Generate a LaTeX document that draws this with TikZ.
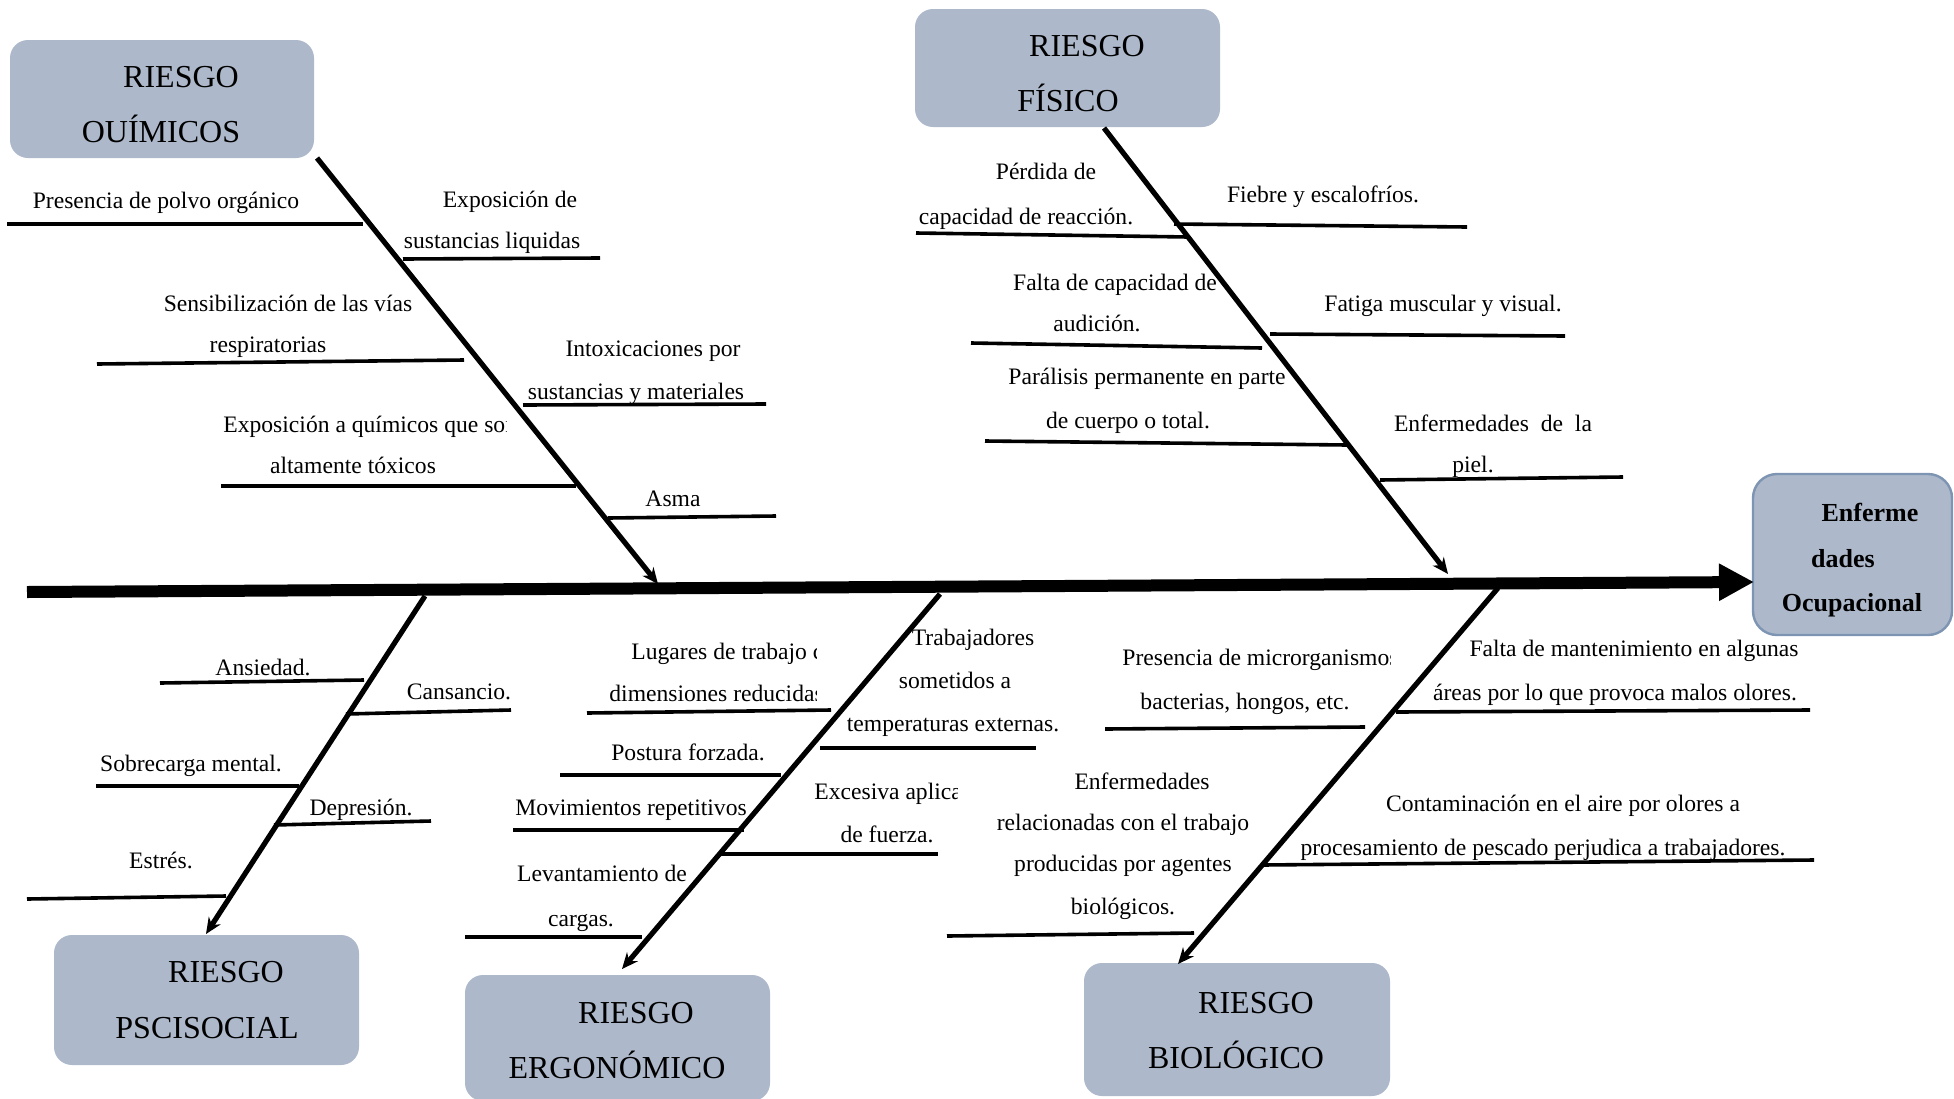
\documentclass[tikz,border=0pt]{standalone}
\usepackage{fontspec}
\setmainfont{Liberation Serif}
\usetikzlibrary{arrows.meta}
\definecolor{boxfill}{RGB}{173,185,203}
\definecolor{boxedge}{RGB}{125,148,178}

\begin{document}
\begin{tikzpicture}[x=0.5pt,y=-0.5pt,
  catbox/.style={fill=boxfill, rounded corners=9pt, inner sep=0pt},
  effbox/.style={fill=boxfill, draw=boxedge, line width=1.2pt, rounded corners=12pt, inner sep=0pt},
  title/.style={anchor=base, inner sep=0pt, font=\fontsize{16}{18}\selectfont},
  efftitle/.style={anchor=base, inner sep=0pt, font=\fontsize{13}{15}\selectfont\bfseries},
  lbl/.style={anchor=base, inner sep=0pt, font=\fontsize{11.8}{14}\selectfont},
  lblw/.style={lbl, anchor=base west},
  rib/.style={line width=1.8pt},
  bone/.style={line width=2.6pt, -{Stealth[length=8pt,width=7pt]}},
  spine/.style={line width=6pt, -{Triangle[length=17.5pt,width=17.5pt]}}]

\clip (0,0) rectangle (1954,1098);
\fill[white] (0,0) rectangle (1954,1098);

% ---------- category boxes ----------
\node[catbox, minimum width=152pt, minimum height=59pt] (quim) at (162,99) {};
\node[title] (quimA) at (181,87) {RIESGO};
\node[title] (quimB) at (161,142) {OUÍMICOS};

\node[catbox, minimum width=152.5pt, minimum height=59pt] (fis) at (1067.5,68) {};
\node[title] (fisA) at (1087,56) {RIESGO};
\node[title] (fisB) at (1068,111) {FÍSICO};

\node[catbox, minimum width=152.5pt, minimum height=65pt] (psi) at (206.5,1000) {};
\node[title] (psiA) at (226,982) {RIESGO};
\node[title] (psiB) at (207,1038) {PSCISOCIAL};

\node[catbox, minimum width=152.5pt, minimum height=63pt] (erg) at (617.5,1038) {};
\node[title] (ergA) at (636,1023) {RIESGO};
\node[title] (ergB) at (617,1078) {ERGONÓMICO};

\node[catbox, minimum width=153pt, minimum height=66.5pt] (bio) at (1237,1029.5) {};
\node[title] (bioA) at (1256,1013) {RIESGO};
\node[title] (bioB) at (1236,1068) {BIOLÓGICO};

% ---------- effect box ----------
\node[effbox, minimum width=99.5pt, minimum height=80.5pt] (eff) at (1852.5,554.5) {};
\node[efftitle] (effA) at (1870,521) {Enferme};
\node[efftitle] (effB) at (1843,567) {dades};
\node[efftitle] (effC) at (1852,611) {Ocupacional};

% ---------- spine ----------
\coordinate (sp0) at (27,592);
\coordinate (sp1) at (1754,582);
\draw[spine] (sp0) -- (sp1);

% ---------- main bones ----------
\coordinate (q0) at (317,158);  \coordinate (q1) at (658,584);
\coordinate (f0) at (1104,128); \coordinate (f1) at (1448,574);
\coordinate (p0) at (425,596);  \coordinate (p1) at (206,934);
\coordinate (e0) at (940,594);  \coordinate (e1) at (622,969);
\coordinate (b0) at (1498,588); \coordinate (b1) at (1178,964);
\draw[bone] (q0) -- (q1);
\draw[bone] (f0) -- (f1);
\draw[bone] (p0) -- (p1);
\draw[bone] (e0) -- (e1);
\draw[bone] (b0) -- (b1);

% ---------- chemical causes ----------
\coordinate (qa0) at (7,224);   \coordinate (qa1) at (363,224);
\coordinate (qb0) at (403,259); \coordinate (qb1) at (600,258);
\coordinate (qc0) at (97,364);  \coordinate (qc1) at (464,360);
\coordinate (qd0) at (523,405); \coordinate (qd1) at (766,404);
\coordinate (qe0) at (221,486); \coordinate (qe1) at (576,486);
\coordinate (qf0) at (608,518); \coordinate (qf1) at (776,516);
\foreach \r in {qa,qb,qc,qd,qe,qf} \draw[rib] (\r0) -- (\r1);
\node[lbl] (qaT) at (166,208) {Presencia de polvo orgánico};
\node[lbl] (qbT1) at (510,207) {Exposición de};
\node[lbl] (qbT2) at (492,248) {sustancias liquidas};
\node[lbl] (qcT1) at (288,311) {Sensibilización de las vías};
\node[lbl] (qcT2) at (268,352) {respiratorias};
\node[lbl] (qdT1) at (653,356) {Intoxicaciones por};
\node[lbl] (qdT2) at (636,399) {sustancias y materiales};
\begin{scope}
  \clip (200,400) rectangle (506,445);
  \node[lblw] (qeT1) at (223,432) {Exposición a químicos que son};
\end{scope}
\node[lbl] (qeT2) at (353,473) {altamente tóxicos};
\node[lbl] (qfT) at (673,506) {Asma};

% ---------- physical causes ----------
\coordinate (fa0) at (916,233);  \coordinate (fa1) at (1188,237);
\coordinate (fb0) at (1174,224); \coordinate (fb1) at (1467,227);
\coordinate (fc0) at (971,343);  \coordinate (fc1) at (1262,348);
\coordinate (fd0) at (1270,334); \coordinate (fd1) at (1565,336);
\coordinate (fe0) at (985,441);  \coordinate (fe1) at (1347,445);
\coordinate (ff0) at (1380,480); \coordinate (ff1) at (1623,477);
\foreach \r in {fa,fb,fc,fd,fe,ff} \draw[rib] (\r0) -- (\r1);
\node[lbl] (faT1) at (1046,179) {Pérdida de};
\node[lbl] (faT2) at (1026,224) {capacidad de reacción.};
\node[lbl] (fbT) at (1323,202) {Fiebre y escalofríos.};
\node[lbl] (fcT1) at (1115,290) {Falta de capacidad de};
\node[lbl] (fcT2) at (1097,331) {audición.};
\node[lbl] (fdT) at (1443,311) {Fatiga muscular y visual.};
\node[lbl] (feT1) at (1147,384) {Parálisis permanente en parte};
\node[lbl] (feT2) at (1128,428) {de cuerpo o total.};
\node[lbl] (ffT1) at (1493,431) {Enfermedades\ \ de\ \ la};
\node[lbl] (ffT2) at (1473,472) {piel.};

% ---------- psychosocial causes ----------
\coordinate (pa0) at (160,683); \coordinate (pa1) at (364,680);
\coordinate (pb0) at (346,714); \coordinate (pb1) at (511,710);
\coordinate (pc0) at (96,786);  \coordinate (pc1) at (299,786);
\coordinate (pd0) at (274,825); \coordinate (pd1) at (431,821);
\coordinate (pe0) at (27,899);  \coordinate (pe1) at (226,896);
\foreach \r in {pa,pb,pc,pd,pe} \draw[rib] (\r0) -- (\r1);
\node[lbl] (paT) at (263,675) {Ansiedad.};
\node[lbl] (pbT) at (459,699) {Cansancio.};
\node[lbl] (pcT) at (191,771) {Sobrecarga mental.};
\node[lbl] (pdT) at (361,815) {Depresión.};
\node[lbl] (peT) at (161,868) {Estrés.};

% ---------- ergonomic causes ----------
\coordinate (ea0) at (587,713); \coordinate (ea1) at (831,710);
\coordinate (eb0) at (820,748); \coordinate (eb1) at (1036,748);
\coordinate (ec0) at (560,775); \coordinate (ec1) at (781,775);
\coordinate (ed0) at (719,854); \coordinate (ed1) at (938,854);
\coordinate (ee0) at (513,830); \coordinate (ee1) at (744,830);
\coordinate (ef0) at (465,937); \coordinate (ef1) at (642,937);
\foreach \r in {ea,eb,ec,ed,ee,ef} \draw[rib] (\r0) -- (\r1);
\begin{scope}
  \clip (590,625) rectangle (816,710);
  \node[lblw] (eaT1) at (631,659) {Lugares de trabajo con};
  \node[lblw] (eaT2) at (609,701) {dimensiones reducidas};
\end{scope}
\node[lbl] (ebT1) at (973,645) {Trabajadores};
\node[lbl] (ebT2) at (955,688) {sometidos a};
\node[lbl] (ebT3) at (953,731) {temperaturas externas.};
\node[lbl] (ecT) at (688,760) {Postura forzada.};
\begin{scope}
  \clip (800,770) rectangle (957,812);
  \node[lblw] (edT1) at (814,799) {Excesiva aplicación};
\end{scope}
\node[lbl] (edT2) at (887,842) {de fuerza.};
\node[lbl] (eeT) at (631,815) {Movimientos repetitivos};
\node[lbl] (efT1) at (602,881) {Levantamiento de};
\node[lbl] (efT2) at (581,926) {cargas.};

% ---------- biological causes ----------
\coordinate (ba0) at (1105,729); \coordinate (ba1) at (1365,727);
\coordinate (bb0) at (1396,712); \coordinate (bb1) at (1810,710);
\coordinate (bc0) at (947,936);  \coordinate (bc1) at (1194,933);
\coordinate (bd0) at (1262,865); \coordinate (bd1) at (1814,860);
\foreach \r in {ba,bb,bc,bd} \draw[rib] (\r0) -- (\r1);
\begin{scope}
  \clip (1100,630) rectangle (1390,675);
  \node[lblw] (baT1) at (1122,665) {Presencia de microrganismos};
\end{scope}
\node[lbl] (baT2) at (1245,709) {bacterias, hongos, etc.};
\node[lbl] (bbT1) at (1634,656) {Falta de mantenimiento en algunas};
\node[lbl] (bbT2) at (1615,700) {áreas por lo que provoca malos olores.};
\node[lbl] (bcT1) at (1142,789) {Enfermedades};
\node[lbl] (bcT2) at (1123,830) {relacionadas con el trabajo};
\node[lbl] (bcT3) at (1123,871) {producidas por agentes};
\node[lbl] (bcT4) at (1123,914) {biológicos.};
\node[lbl] (bdT1) at (1563,811) {Contaminación en el aire por olores a};
\node[lbl] (bdT2) at (1543,855) {procesamiento de pescado perjudica a trabajadores.};

\end{tikzpicture}
\end{document}
